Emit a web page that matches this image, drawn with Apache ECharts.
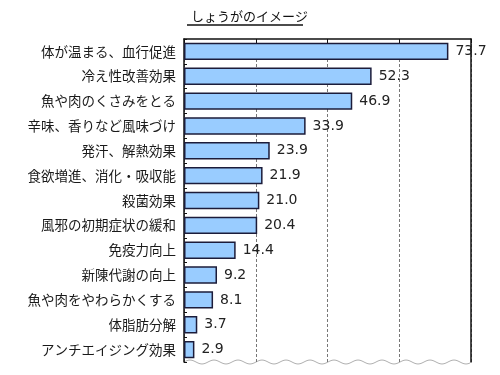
<!DOCTYPE html>
<html><head><meta charset="utf-8">
<script src="https://cdn.jsdelivr.net/npm/echarts@6/dist/echarts.min.js"></script>
<style>html,body{margin:0;padding:0;background:#fff}#c{width:500px;height:375px}</style>
</head><body><div id="c"></div>
<script>
const categories = ["体が温まる、血行促進","冷え性改善効果","魚や肉のくさみをとる","辛味、香りなど風味づけ","発汗、解熱効果","食欲増進、消化・吸収能","殺菌効果","風邪の初期症状の緩和","免疫力向上","新陳代謝の向上","魚や肉をやわらかくする","体脂肪分解","アンチエイジング効果"];
const values = [73.7,52.3,46.9,33.9,23.9,21.9,21.0,20.4,14.4,9.2,8.1,3.7,2.9];
const titleText = "しょうがのイメージ";

const chart = echarts.init(document.getElementById('c'));
const G = {left:184, right:29, top:39, bottom:13};
// wavy bottom edge (decorative)
const wave = [];
const x0 = G.left, x1 = 500 - G.right, yb = 375 - G.bottom;
for (let x = x0; x <= x1; x += 2) {
  wave.push([x, yb - 2 * Math.sin((x - x0) / 24 * 2 * Math.PI)]);
}
chart.setOption({
  animation:false,
  backgroundColor:'#fff',
  title:{text:titleText,left:186,top:5,textStyle:{fontFamily:'Noto Sans CJK JP',fontSize:13,fontWeight:'normal',color:'#111'}},
  graphic:[
    {type:'line',shape:{x1:187,y1:25,x2:303,y2:25},style:{stroke:'#111',lineWidth:1.3}},
    {type:'polyline',shape:{points:wave},style:{stroke:'#b0b0b0',lineWidth:1,fill:null}}
  ],
  grid:{left:G.left,right:G.right,top:G.top,bottom:G.bottom,containLabel:false},
  xAxis:{type:'value',position:'top',min:0,max:80,interval:20,
    axisLine:{show:true,lineStyle:{color:'#111',width:1.5}},
    axisTick:{show:true,inside:true,length:4,lineStyle:{color:'#111'}},
    axisLabel:{show:false},
    splitLine:{show:true,lineStyle:{color:'#777',type:[3,2],width:1}}},
  yAxis:[{type:'category',data:categories,inverse:true,
    axisLine:{show:true,lineStyle:{color:'#111',width:1.5}},
    axisTick:{show:true,inside:true,length:3,lineStyle:{color:'#111'}},
    axisLabel:{fontFamily:'Noto Sans CJK JP',fontSize:13.5,color:'#1a1a1a',margin:8},
    splitLine:{show:false}},
   {type:'category',data:categories,inverse:true,position:'right',
    axisLine:{show:true,lineStyle:{color:'#111',width:1.5}},
    axisTick:{show:false},axisLabel:{show:false},splitLine:{show:false}}],
  series:[{type:'bar',data:values,barCategoryGap:'30%',
    itemStyle:{color:'#99CCFF',borderColor:'#1c1c3a',borderWidth:1.5},
    label:{show:true,position:'right',distance:7,fontFamily:'DejaVu Sans',fontSize:14,color:'#222',
      formatter:p=>p.value.toFixed(1)}}]
});
</script></body></html>
